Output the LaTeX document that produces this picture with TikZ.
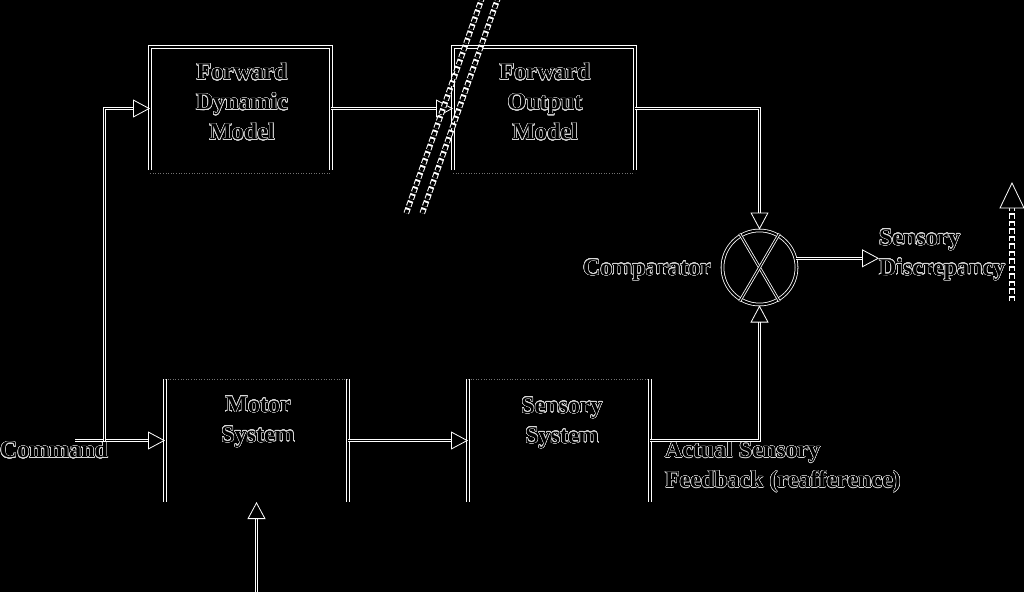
\documentclass[tikz,border=0pt]{standalone}
\usepackage{fontspec}
\setmainfont{Liberation Serif}
\usepackage[copies]{contour}
\contourlength{0.45pt}
\contournumber{24}
\usetikzlibrary{arrows.meta,calc}
\newcommand{\ol}[1]{\contour{white!85!black}{#1}}
\begin{document}
\begin{tikzpicture}[x=1pt,y=-1pt,
  every node/.style={inner sep=0pt, outer sep=0pt},
  lbl/.style={text=black, font=\fontsize{24}{30}\selectfont\bfseries, align=center},
  lbll/.style={text=black, font=\fontsize{24}{30}\selectfont\bfseries, align=left},
  edge/.style={draw=white, line width=0.8pt, double=black, double distance=1.2pt},
  side/.style={draw=white, line width=0.8pt, double=black, double distance=2.6pt},
  faint/.style={draw=white!45!black, line width=0.6pt, dotted},
  tip/.style={-{Triangle[open, length=17pt, width=18pt, line width=0.8pt]}},
  hsq/.style={draw=black, line width=3.6pt, dash pattern=on 3.6pt off 3.9pt, dash phase=6.7pt,
    preaction={draw=white, line width=5.6pt, dash pattern=on 5.6pt off 1.9pt}}
]
\fill[black] (0,0) rectangle (1024,592);
\useasboundingbox (0,0) rectangle (1024,592);

% blocks (invisible node frames)
\node[minimum width=181pt, minimum height=123pt] (fdm) at (240.5,108.5) {};
\node[minimum width=182pt, minimum height=123pt] (fom) at (544,108.5) {};
\node[minimum width=183pt, minimum height=123pt] (mot) at (256.5,440.5) {};
\node[minimum width=182pt, minimum height=123pt] (sen) at (559,440.5) {};
\node[circle, minimum size=76pt] (cmp) at (759.5,267.5) {};

% upper boxes: top + sides
\draw[side] (fdm.south west) -- (fdm.north west) -- (fdm.north east) -- (fdm.south east);
\draw[side] (fom.south west) -- (fom.north west) -- (fom.north east) -- (fom.south east);
\draw[faint] ([yshift=-3pt]fdm.south west) -- ([yshift=-3pt]fdm.south east);
\draw[faint] ([yshift=-3pt]fom.south west) -- ([yshift=-3pt]fom.south east);
% lower boxes: sides only, faint top
\draw[side] (mot.north west) -- (mot.south west);
\draw[side] (mot.north east) -- (mot.south east);
\draw[side] (sen.north west) -- (sen.south west);
\draw[side] (sen.north east) -- (sen.south east);
\draw[faint] (mot.north west) -- (mot.north east);
\draw[faint] (sen.north west) -- (sen.north east);

% comparator
\draw[side, double distance=2pt] (cmp) circle (37pt);
\draw[edge] ($(cmp.135)+(7pt,7pt)$) -- ($(cmp.-45)+(-7pt,-7pt)$);
\draw[edge] ($(cmp.45)+(-7pt,7pt)$) -- ($(cmp.-135)+(7pt,-7pt)$);

% labels
\node[lbl] (fdmt) at (242,102) {\ol{Forward}\\\ol{Dynamic}\\\ol{Model}};
\node[lbl] (fomt) at (545,102) {\ol{Forward}\\\ol{Output}\\\ol{Model}};
\node[lbl] (mott) at (258,422) {\ol{Motor}\\\ol{System}};
\node[lbl] (sent) at (562,423) {\ol{Sensory}\\\ol{System}};
\node[lbl, anchor=west] (cmdt) at (0,450) {\ol{Command}};
\node[lbl, anchor=east] (cmpt) at (711,270) {\ol{Comparator}};
\node[lbll, anchor=west] (sdt) at (879,255) {\ol{Sensory}\\\ol{Discrepancy}};
\node[lbll, anchor=west] (aft) at (665,467) {\ol{Actual Sensory}\\\ol{Feedback (reafference)}};

% connectors
\coordinate (cmdstart) at (75,440.5);
\coordinate (branch) at (104.5,440.5);
\coordinate (motin) at (256.5,592);
\draw[edge, tip] (cmdstart) -- (mot.west);
\draw[edge, tip] (branch) |- (fdm.west);
\draw[edge, tip] (fdm.east) -- (fom.west);
\draw[edge, tip] (fom.east) -| (cmp.north);
\draw[edge, tip] (mot.east) -- (sen.west);
\draw[edge, tip] (sen.east) -| (cmp.south);
\draw[edge, tip] (cmp.14) -- (sdt.west |- cmp.14);
\draw[edge, tip] (motin) -- (mot.south);

% slanted broken-line marks
\coordinate (s1a) at (406,214);
\coordinate (s1b) at (482,-2);
\coordinate (s2a) at (422,214);
\coordinate (s2b) at (498,-2);
\draw[hsq] (s1a) -- (s1b);
\draw[hsq] (s2a) -- (s2b);

% right dashed arrow
\coordinate (da) at (1012,302);
\coordinate (db) at (1012,208);
\draw[hsq] (da) -- (db);
\draw[white, line width=0.8pt, fill=black] ($(db)+(-12,0)$) -- ($(db)+(0,-25)$) -- ($(db)+(12,0)$) -- cycle;
\end{tikzpicture}
\end{document}
